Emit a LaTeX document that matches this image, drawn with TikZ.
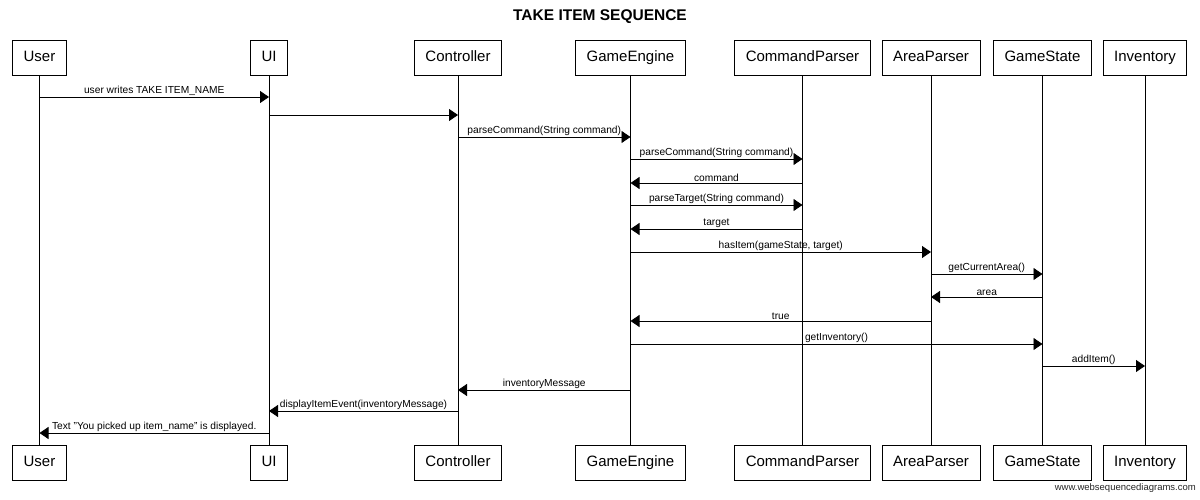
\documentclass[tikz,border=0pt]{standalone}
\usepackage{fontspec}
\setmainfont{Liberation Sans}
\usetikzlibrary{arrows.meta}
\begin{document}
\begin{tikzpicture}[x=1pt,y=-1pt,
  actor/.style={draw=black,line width=0.8pt,fill=white,minimum height=35pt,inner xsep=11pt,text height=11pt,text depth=3pt,font=\fontsize{15}{17}\selectfont},
  life/.style={line width=0.8pt,black},
  msgline/.style={line width=0.9pt,black,-{Triangle[length=9pt,width=12pt]}},
  lbl/.style={midway,above,inner sep=0.8pt,font=\fontsize{10.2}{12}\selectfont}]
\useasboundingbox (0,0) rectangle (1200,500);
\node[font=\fontsize{15.5}{18}\selectfont\bfseries] (title) at (600,17) {TAKE ITEM SEQUENCE};
% top boxes
\foreach \n/\x in {User/39.5,UI/269,Controller/458,GameEngine/630.5,CommandParser/802.5,AreaParser/931,GameState/1042.5,Inventory/1145}{
  \node[actor] (t\n) at (\x,58) {\n};
  \node[actor] (b\n) at (\x,462.5) {\n};
  \draw[life] (t\n.south) -- (b\n.north);
}
\newcommand\msgarrow[4]{\draw[msgline] (#1 |- 0,#3) -- (#2 |- 0,#3) node[lbl]{#4};}
\msgarrow{tUser}{tUI}{97}{user writes TAKE ITEM\_NAME}
\msgarrow{tUI}{tController}{115}{}
\msgarrow{tController}{tGameEngine}{137}{parseCommand(String command)}
\msgarrow{tGameEngine}{tCommandParser}{159}{parseCommand(String command)}
\msgarrow{tCommandParser}{tGameEngine}{183}{command}
\msgarrow{tGameEngine}{tCommandParser}{205}{parseTarget(String command)}
\msgarrow{tCommandParser}{tGameEngine}{229}{target}
\msgarrow{tGameEngine}{tAreaParser}{252}{hasItem(gameState, target)}
\msgarrow{tAreaParser}{tGameState}{274}{getCurrentArea()}
\msgarrow{tGameState}{tAreaParser}{297}{area}
\msgarrow{tAreaParser}{tGameEngine}{321}{true}
\msgarrow{tGameEngine}{tGameState}{344}{getInventory()}
\msgarrow{tGameState}{tInventory}{366}{addItem()}
\msgarrow{tGameEngine}{tController}{390}{inventoryMessage}
\msgarrow{tController}{tUI}{411}{displayItemEvent(inventoryMessage)}
\msgarrow{tUI}{tUser}{433}{Text "You picked up item\_name" is displayed.}
\node[anchor=east,inner sep=0pt,font=\fontsize{9.5}{11}\selectfont,text=black!85] (footer) at (1196,488) {www.websequencediagrams.com};
\end{tikzpicture}
\end{document}
